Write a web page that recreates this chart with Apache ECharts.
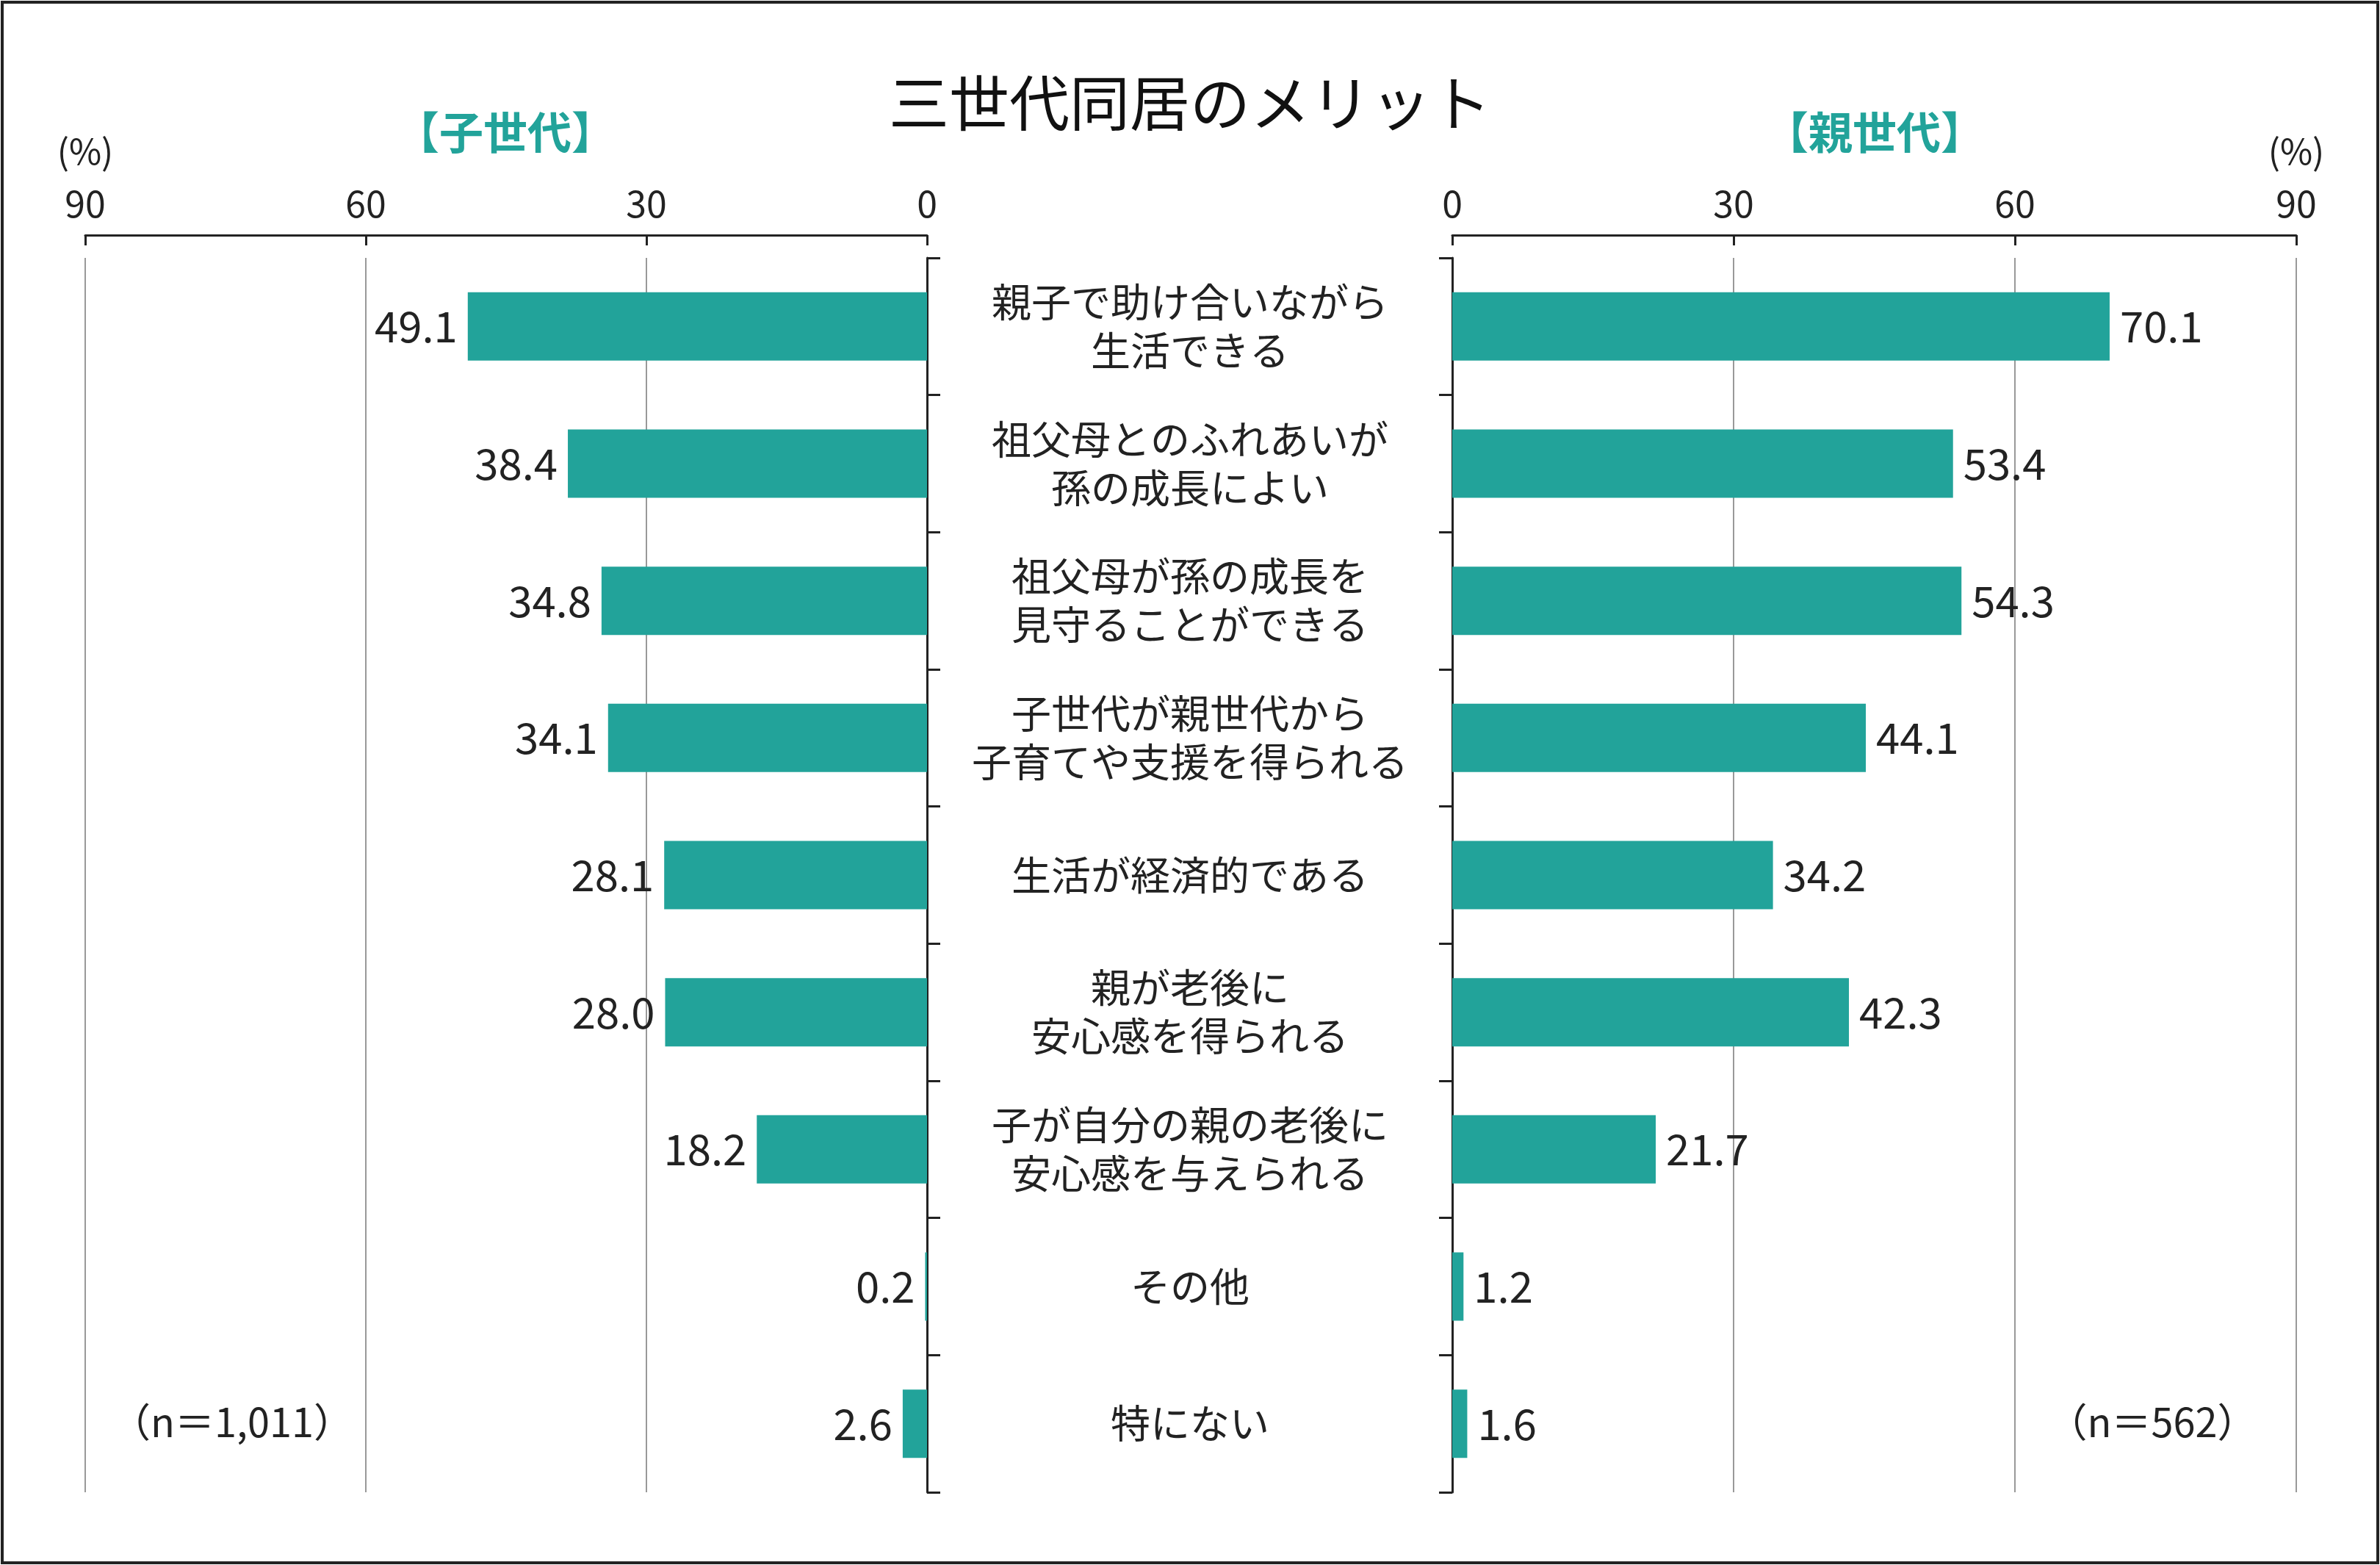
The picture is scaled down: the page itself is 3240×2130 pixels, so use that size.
<!DOCTYPE html>
<html><head><meta charset="utf-8">
<script src="https://cdn.jsdelivr.net/npm/echarts@6/dist/echarts.min.js"></script>
<style>html,body{margin:0;padding:0;background:#fff}#c{width:3240px;height:2130px}</style>
</head><body><div id="c"></div>
<script>
const categories = ['親子で助け合いながら\n生活できる','祖父母とのふれあいが\n孫の成長によい','祖父母が孫の成長を\n見守ることができる','子世代が親世代から\n子育てや支援を得られる','生活が経済的である','親が老後に\n安心感を得られる','子が自分の親の老後に\n安心感を与えられる','その他','特にない'];
const childGen = [49.1,38.4,34.8,34.1,28.1,28.0,18.2,0.2,2.6];
const parentGen = [70.1,53.4,54.3,44.1,34.2,42.3,21.7,1.2,1.6];
const ticks = [0,30,60,90];
const F = '"Noto Sans CJK JP","Noto Sans",sans-serif';
const teal = '#22a39a';
const chart = echarts.init(document.getElementById('c'));
const xCommon = {min:0,max:90,interval:30,position:'top',offset:31,
  axisLine:{show:true,lineStyle:{color:'#222',width:3}},
  axisTick:{show:true,inside:true,length:14,lineStyle:{color:'#222',width:3}},
  axisLabel:{fontFamily:F,fontSize:50,color:'#222',margin:18},
  splitLine:{show:true,lineStyle:{color:'#999',width:2}}};
const yCommon = {type:'category',data:categories,inverse:true,
  axisLine:{show:true,lineStyle:{color:'#222',width:3}},
  axisTick:{show:true,length:18,lineStyle:{color:'#222',width:3}}};
chart.setOption({
  animation:false,
  grid:[{left:116,right:1978,top:351,bottom:99},{left:1977,right:114,top:351,bottom:99}],
  xAxis:[Object.assign({gridIndex:0,inverse:true},xCommon),Object.assign({gridIndex:1},xCommon)],
  yAxis:[Object.assign({gridIndex:0,position:'right',axisLabel:{show:true,align:'center',margin:358,fontFamily:F,fontSize:54,color:'#222',lineHeight:66}},yCommon),
         Object.assign({gridIndex:1,position:'left',axisLabel:{show:false}},yCommon)],
  series:[
    {type:'bar',xAxisIndex:0,yAxisIndex:0,data:childGen,barWidth:93,itemStyle:{color:teal},
     label:{show:true,position:'left',distance:14,fontFamily:F,fontSize:58,color:'#222',formatter:p=>p.value.toFixed(1)}},
    {type:'bar',xAxisIndex:1,yAxisIndex:1,data:parentGen,barWidth:93,itemStyle:{color:teal},
     label:{show:true,position:'right',distance:14,fontFamily:F,fontSize:58,color:'#222',formatter:p=>p.value.toFixed(1)}}
  ],
  graphic:[
    {type:'rect',shape:{x:3,y:3,width:3234,height:2124},style:{fill:'none',stroke:'#222',lineWidth:4}},
    {type:'text',x:1620,y:140,style:{text:'三世代同居のメリット',fontFamily:F,fontSize:82,fill:'#111',align:'center',verticalAlign:'middle'}},
    {type:'text',x:688,y:180,style:{text:'【子世代】',fontFamily:F,fontSize:60,fontWeight:'bold',fill:teal,align:'center',verticalAlign:'middle'}},
    {type:'text',x:2552,y:180,style:{text:'【親世代】',fontFamily:F,fontSize:60,fontWeight:'bold',fill:teal,align:'center',verticalAlign:'middle'}},
    {type:'text',x:116,y:206,style:{text:'(%)',fontFamily:F,fontSize:48,fill:'#222',align:'center',verticalAlign:'middle'}},
    {type:'text',x:3126,y:206,style:{text:'(%)',fontFamily:F,fontSize:48,fill:'#222',align:'center',verticalAlign:'middle'}},
    {type:'text',x:316,y:1935,style:{text:'（n＝1,011）',fontFamily:F,fontSize:54,fill:'#222',align:'center',verticalAlign:'middle'}},
    {type:'text',x:2930,y:1935,style:{text:'（n＝562）',fontFamily:F,fontSize:54,fill:'#222',align:'center',verticalAlign:'middle'}}
  ]
});
</script></body></html>
